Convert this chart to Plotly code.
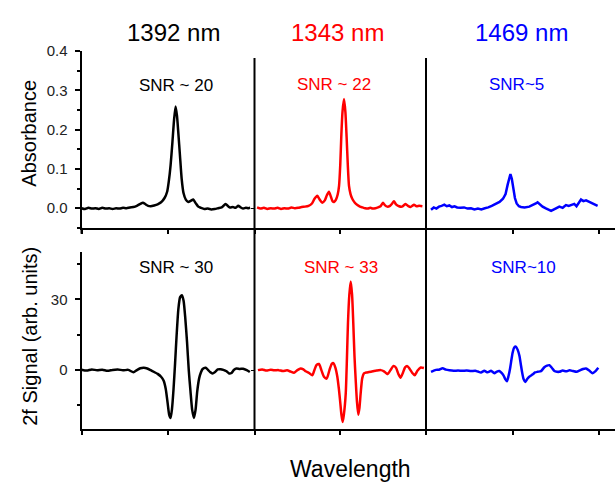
import plotly.graph_objects as go

# ---------------- data (arbitrary wavelength units 0..1 per panel) ----------------
abs_1392_x = [0.00,0.02,0.04,0.06,0.08,0.10,0.12,0.14,0.16,0.18,0.20,0.22,0.24,0.26,0.28,0.30,0.32,0.34,0.355,0.37,0.385,0.40,0.42,0.44,0.46,0.48,0.495,0.505,0.515,0.525,0.535,0.544,0.552,0.560,0.569,0.579,0.590,0.603,0.617,0.632,0.646,0.660,0.675,0.69,0.71,0.73,0.75,0.77,0.79,0.81,0.833,0.845,0.858,0.875,0.89,0.906,0.92,0.935,0.95,0.965,0.975]
abs_1392_y = [0.000,-0.002,0.001,-0.001,0.000,-0.002,0.001,-0.001,0.000,-0.002,0.000,-0.001,0.001,0.000,0.002,0.003,0.006,0.011,0.014,0.010,0.006,0.005,0.007,0.010,0.015,0.026,0.042,0.070,0.110,0.165,0.225,0.259,0.235,0.190,0.135,0.075,0.038,0.022,0.016,0.019,0.022,0.013,0.004,0.001,-0.002,-0.001,-0.003,-0.002,0.000,0.002,0.011,0.006,0.002,0.003,0.001,0.006,0.002,-0.001,0.001,0.000,0.001]

abs_1343_x = [0.015,0.035,0.055,0.075,0.095,0.115,0.135,0.155,0.175,0.195,0.215,0.235,0.255,0.275,0.295,0.315,0.335,0.350,0.366,0.380,0.395,0.410,0.422,0.434,0.445,0.455,0.464,0.475,0.485,0.493,0.500,0.506,0.513,0.522,0.530,0.537,0.544,0.551,0.560,0.570,0.585,0.600,0.615,0.630,0.645,0.660,0.675,0.690,0.705,0.720,0.735,0.749,0.760,0.774,0.790,0.803,0.813,0.825,0.843,0.860,0.872,0.881,0.895,0.910,0.920,0.930,0.945,0.960,0.979]
abs_1343_y = [0.002,-0.001,0.001,-0.002,0.000,-0.001,0.001,-0.002,0.000,-0.001,0.002,0.000,0.001,0.003,0.004,0.006,0.012,0.024,0.032,0.022,0.014,0.020,0.033,0.042,0.030,0.018,0.016,0.022,0.035,0.057,0.110,0.182,0.245,0.278,0.245,0.182,0.110,0.057,0.036,0.024,0.014,0.008,0.004,0.002,0.000,-0.001,0.001,-0.001,0.000,0.002,0.005,0.014,0.008,0.004,0.006,0.012,0.018,0.010,0.005,0.004,0.008,0.011,0.006,0.003,0.006,0.009,0.005,0.006,0.005]

abs_1469_x = [0.029,0.045,0.060,0.075,0.090,0.106,0.120,0.135,0.150,0.165,0.180,0.200,0.220,0.240,0.260,0.280,0.300,0.320,0.340,0.360,0.380,0.405,0.425,0.445,0.460,0.472,0.480,0.488,0.496,0.505,0.514,0.524,0.537,0.549,0.570,0.597,0.620,0.635,0.645,0.660,0.674,0.690,0.705,0.723,0.740,0.755,0.771,0.790,0.809,0.825,0.840,0.857,0.870,0.882,0.896,0.910,0.925,0.944,0.960,0.975,0.992]
abs_1469_y = [-0.004,0.002,-0.001,0.004,0.006,0.009,0.005,0.007,0.003,0.005,0.002,0.001,0.002,-0.001,0.000,-0.003,-0.001,-0.003,0.000,0.002,0.006,0.012,0.016,0.024,0.036,0.060,0.078,0.087,0.075,0.049,0.026,0.012,0.005,0.003,0.002,0.004,0.008,0.012,0.015,0.008,0.004,0.000,-0.003,-0.007,-0.003,0.001,0.004,0.001,0.008,0.006,0.009,0.011,0.005,0.014,0.022,0.018,0.020,0.016,0.013,0.009,0.006]

sig_1392_x = [0.00,0.03,0.06,0.09,0.12,0.15,0.18,0.21,0.24,0.27,0.30,0.32,0.34,0.36,0.38,0.40,0.42,0.44,0.46,0.475,0.487,0.498,0.507,0.515,0.523,0.532,0.541,0.550,0.560,0.570,0.580,0.590,0.600,0.610,0.620,0.630,0.640,0.650,0.659,0.669,0.680,0.690,0.700,0.718,0.730,0.743,0.757,0.772,0.788,0.804,0.820,0.838,0.853,0.867,0.882,0.896,0.915,0.934,0.955,0.973]
sig_1392_y = [0.2,-0.2,0.3,-0.1,0.2,-0.3,0.1,0.3,-0.1,0.1,-0.9,0.0,0.8,1.0,0.7,0.0,-0.8,-1.6,-2.8,-4.5,-8.0,-14.0,-19.0,-20.3,-16.5,-8.0,3.0,15.0,26.0,31.0,31.8,29.5,22.0,12.0,0.0,-9.0,-17.0,-20.3,-17.0,-9.0,-3.5,-1.0,0.5,1.0,0.2,-0.8,-1.4,-0.8,0.3,0.4,0.1,-0.5,-1.4,-1.2,0.2,0.7,0.5,0.6,0.0,-0.8]

sig_1343_x = [0.020,0.045,0.070,0.095,0.114,0.140,0.165,0.190,0.210,0.230,0.250,0.269,0.285,0.298,0.318,0.337,0.350,0.362,0.376,0.390,0.405,0.421,0.437,0.450,0.460,0.472,0.483,0.492,0.499,0.507,0.514,0.521,0.532,0.539,0.545,0.553,0.561,0.569,0.576,0.583,0.590,0.597,0.605,0.612,0.619,0.628,0.638,0.652,0.668,0.690,0.712,0.736,0.755,0.775,0.793,0.810,0.825,0.840,0.852,0.866,0.878,0.891,0.905,0.920,0.934,0.950,0.969,0.988]
sig_1343_y = [0.0,0.3,-0.2,0.2,-0.1,0.0,-0.4,-0.1,-0.6,-1.1,0.0,0.7,0.3,-0.5,-1.2,-2.2,0.2,2.2,2.6,0.0,-2.8,-3.6,0.0,2.6,3.0,1.0,-2.8,-8.0,-13.0,-19.0,-22.0,-19.0,-9.9,5.0,20.0,32.0,37.6,32.0,20.0,6.0,-4.0,-13.0,-18.9,-16.0,-9.9,-3.5,-1.4,-1.0,-0.8,-0.5,-0.2,0.0,-0.5,-1.7,0.0,1.8,1.0,-1.8,-3.2,-1.0,1.2,1.7,0.5,-1.2,-2.2,-0.3,1.1,0.9]

sig_1469_x = [0.029,0.045,0.058,0.075,0.096,0.115,0.135,0.160,0.185,0.210,0.235,0.260,0.285,0.300,0.318,0.337,0.356,0.376,0.395,0.410,0.424,0.437,0.447,0.458,0.468,0.477,0.486,0.494,0.501,0.510,0.520,0.530,0.540,0.548,0.555,0.564,0.574,0.585,0.597,0.607,0.617,0.630,0.645,0.665,0.684,0.700,0.713,0.727,0.742,0.757,0.771,0.790,0.810,0.830,0.850,0.870,0.890,0.908,0.925,0.945,0.963,0.980,0.996]
sig_1469_y = [-0.7,-0.2,0.1,0.2,0.8,0.2,-0.1,-0.3,-0.2,-0.3,-0.2,-0.4,-0.3,-0.6,-1.0,-0.3,-0.9,-0.3,-1.3,-0.6,-0.4,-1.2,-2.1,-3.8,-4.7,-2.5,0.7,4.5,7.5,9.6,10.0,8.6,6.1,2.5,-0.7,-3.8,-5.0,-3.8,-2.8,-2.3,-1.8,-1.0,-0.7,-0.4,1.2,1.9,2.1,1.0,-0.4,-0.7,-0.7,-0.2,-0.5,-0.1,-0.4,-0.7,-0.1,0.5,0.7,-0.3,-1.3,-0.4,1.0]

wavelength_titles = ["1392 nm", "1343 nm", "1469 nm"]
snr_abs = ["SNR ~ 20", "SNR ~ 22", "SNR~5"]
snr_2f = ["SNR ~ 30", "SNR ~ 33", "SNR~10"]
abs_ticks = [0.0, 0.1, 0.2, 0.3, 0.4]
abs_ticklabels = ["0.0", "0.1", "0.2", "0.3", "0.4"]
sig_ticks = [0, 30]
sig_ticklabels = ["0", "30"]

colors = ["#000000", "#FF0000", "#0000FF"]

# ---------------- layout geometry ----------------
W, H = 615, 482
def fx(px): return px / W
def fy(py): return 1 - py / H

col_px = [(81.5, 254.5), (254.5, 426.0), (426.0, 615.0)]
col_range = [[0, 1], [0, 1], [0, (615.0 - 426.0) / 173.0]]
top_dom = [fy(223), fy(43)]
bot_dom = [fy(428), fy(248)]

font = "Liberation Sans, Arial, sans-serif"
fig = go.Figure()

abs_data = [(abs_1392_x, abs_1392_y), (abs_1343_x, abs_1343_y), (abs_1469_x, abs_1469_y)]
sig_data = [(sig_1392_x, sig_1392_y), (sig_1343_x, sig_1343_y), (sig_1469_x, sig_1469_y)]

layout = dict(
    width=W, height=H, margin=dict(l=0, r=0, t=0, b=0),
    paper_bgcolor="white", plot_bgcolor="white", showlegend=False,
    font=dict(family=font, color="#222222", size=15),
)

for c in range(3):
    for r in range(2):
        idx = r * 3 + c + 1
        xa = "x" if idx == 1 else f"x{idx}"
        ya = "y" if idx == 1 else f"y{idx}"
        xs, ys = (abs_data if r == 0 else sig_data)[c]
        shape = "linear" if (r == 0 and c == 2) else "spline"
        fig.add_trace(go.Scatter(x=xs, y=ys, mode="lines", xaxis=xa, yaxis=ya,
                                 line=dict(color=colors[c], width=2.5, shape=shape, smoothing=0.6),
                                 hoverinfo="skip"))
        xkey = "xaxis" if idx == 1 else f"xaxis{idx}"
        ykey = "yaxis" if idx == 1 else f"yaxis{idx}"
        layout[xkey] = dict(domain=[fx(col_px[c][0]), fx(col_px[c][1])], range=col_range[c],
                            anchor=ya, showline=True, linecolor="black", linewidth=2,
                            ticks="outside", tickvals=[0, 0.5, 1], ticklen=4, tickwidth=1.5,
                            tickcolor="black", showticklabels=False, showgrid=False, zeroline=False,
                            fixedrange=True)
        ydict = dict(domain=top_dom if r == 0 else bot_dom,
                     range=[-0.05, 0.4] if r == 0 else [-25, 50],
                     anchor=xa, showgrid=False, zeroline=False, fixedrange=True)
        if c == 0:
            common = dict(showline=True, linecolor="black", linewidth=2, ticks="outside",
                          ticklen=5, tickwidth=1.5, tickcolor="black", ticklabelstandoff=4,
                          tickfont=dict(family=font, size=15, color="#222222"))
            if r == 0:
                ydict.update(common, tickvals=abs_ticks, ticktext=abs_ticklabels,
                             minor=dict(ticks="outside", dtick=0.05, tick0=0, ticklen=3, tickwidth=1.5, tickcolor="black"))
            else:
                ydict.update(common, tickvals=sig_ticks, ticktext=sig_ticklabels,
                             minor=dict(ticks="outside", dtick=15, tick0=0, ticklen=3, tickwidth=1.5, tickcolor="black"))
        else:
            ydict.update(showline=False, ticks="outside" if c == 1 else "", tickvals=[0],
                         ticklen=3, tickwidth=1, tickcolor="black", showticklabels=False)
        layout[ykey] = ydict

fig.update_layout(**layout)

# column separators
for px in (254.5, 426.0):
    fig.add_shape(type="line", xref="paper", yref="paper", x0=fx(px), x1=fx(px),
                  y0=fy(50), y1=fy(428), line=dict(color="black", width=2))
# small extension of left axis below top panel
fig.add_shape(type="line", xref="paper", yref="paper", x0=fx(81.5), x1=fx(81.5),
              y0=fy(223), y1=fy(229), line=dict(color="black", width=2))

# titles and annotations
title_pos = [(174, 24), (337, 24), (521, 24)]
for c in range(3):
    fig.add_annotation(text=wavelength_titles[c], x=fx(title_pos[c][0]), y=fy(title_pos[c][1]),
                       xref="paper", yref="paper", showarrow=False, xanchor="center", yanchor="middle",
                       font=dict(family=font, size=24, color=colors[c]))
snr_abs_pos = [(176, 78), (334, 77), (516, 77)]
snr_2f_pos = [(176, 263), (341, 263), (523, 263)]
for c in range(3):
    fig.add_annotation(text=snr_abs[c], x=fx(snr_abs_pos[c][0]), y=fy(snr_abs_pos[c][1]),
                       xref="paper", yref="paper", showarrow=False, xanchor="center", yanchor="middle",
                       font=dict(family=font, size=17, color=colors[c]))
    fig.add_annotation(text=snr_2f[c], x=fx(snr_2f_pos[c][0]), y=fy(snr_2f_pos[c][1]),
                       xref="paper", yref="paper", showarrow=False, xanchor="center", yanchor="middle",
                       font=dict(family=font, size=17, color=colors[c]))

fig.add_annotation(text="Absorbance", x=fx(29), y=fy(127), xref="paper", yref="paper",
                   showarrow=False, textangle=-90, xanchor="center", yanchor="middle",
                   font=dict(family=font, size=20, color="black"))
fig.add_annotation(text="2f Signal (arb. units)", x=fx(30), y=fy(334), xref="paper", yref="paper",
                   showarrow=False, textangle=-90, xanchor="center", yanchor="middle",
                   font=dict(family=font, size=20, color="black"))
fig.add_annotation(text="Wavelength", x=fx(350), y=fy(469), xref="paper", yref="paper",
                   showarrow=False, xanchor="center", yanchor="middle",
                   font=dict(family=font, size=23, color="black"))

fig.write_html("out.html")
